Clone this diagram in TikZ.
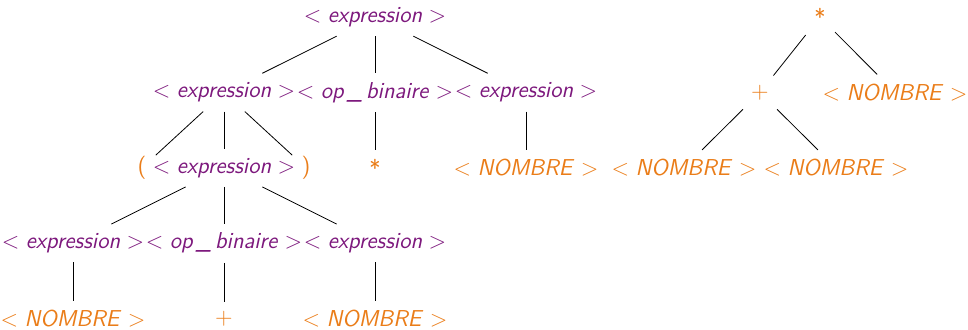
\documentclass[tikz,border=0pt]{standalone}
\usetikzlibrary{trees}

\definecolor{ntpurple}{RGB}{125,25,125}
\definecolor{tmorange}{RGB}{234,125,25}
\newcommand{\nterm}[1]{\textup{<}\hspace{0.28em}#1\hspace{0.28em}\textup{>}}

\tikzset{
  nonterm/.style={text=ntpurple},
  term/.style={text=tmorange}
}

\begin{document}
\begin{tikzpicture}[
  x=0.5pt, y=0.5pt,
  level distance=37.7pt,
  every node/.style={font=\fontsize{11.5}{14}\selectfont\sffamily\itshape, inner sep=4.5pt},
  edge from parent/.style={draw, black, thin}
]
\useasboundingbox (0,0) rectangle (968,-329);

% arbre de derivation
\node[nonterm] (E) at (375,-17) {\nterm{expression}}
  [level 1/.style={sibling distance=75.5pt},
   level 2/.style={sibling distance=41pt},
   level 3/.style={sibling distance=75.5pt}]
  child { node[nonterm] (E1) {\nterm{expression}}
    child { node[term] (Lpar) {\textup{(}} }
    child { node[nonterm] (E11) {\nterm{expression}}
      child { node[nonterm] (E111) {\nterm{expression}}
        child { node[term] (N1) {\nterm{NOMBRE}} }
      }
      child { node[nonterm] (Op11) {\nterm{op\,\_\,binaire}}
        child { node[term] (Plus) {\textup{+}} }
      }
      child { node[nonterm] (E112) {\nterm{expression}}
        child { node[term] (N2) {\nterm{NOMBRE}} }
      }
    }
    child { node[term] (Rpar) {\textup{)}} }
  }
  child { node[nonterm] (Op1) {\nterm{op\,\_\,binaire}}
    child { node[term] (Star) {\textup{*}} }
  }
  child { node[nonterm] (E2) {\nterm{expression}}
    child { node[term] (N3) {\nterm{NOMBRE}} }
  };

% arbre abstrait
\node[term] (AStar) at (820,-17) {\textup{*}}
  [level 1/.style={sibling distance=67.5pt},
   level 2/.style={sibling distance=76pt}]
  child[xshift=3.75pt] { node[term] (APlus) {\textup{+}}
    child { node[term] (AN1) {\nterm{NOMBRE}} }
    child { node[term] (AN2) {\nterm{NOMBRE}} }
  }
  child[xshift=3.75pt] { node[term] (AN3) {\nterm{NOMBRE}} };
\end{tikzpicture}
\end{document}
